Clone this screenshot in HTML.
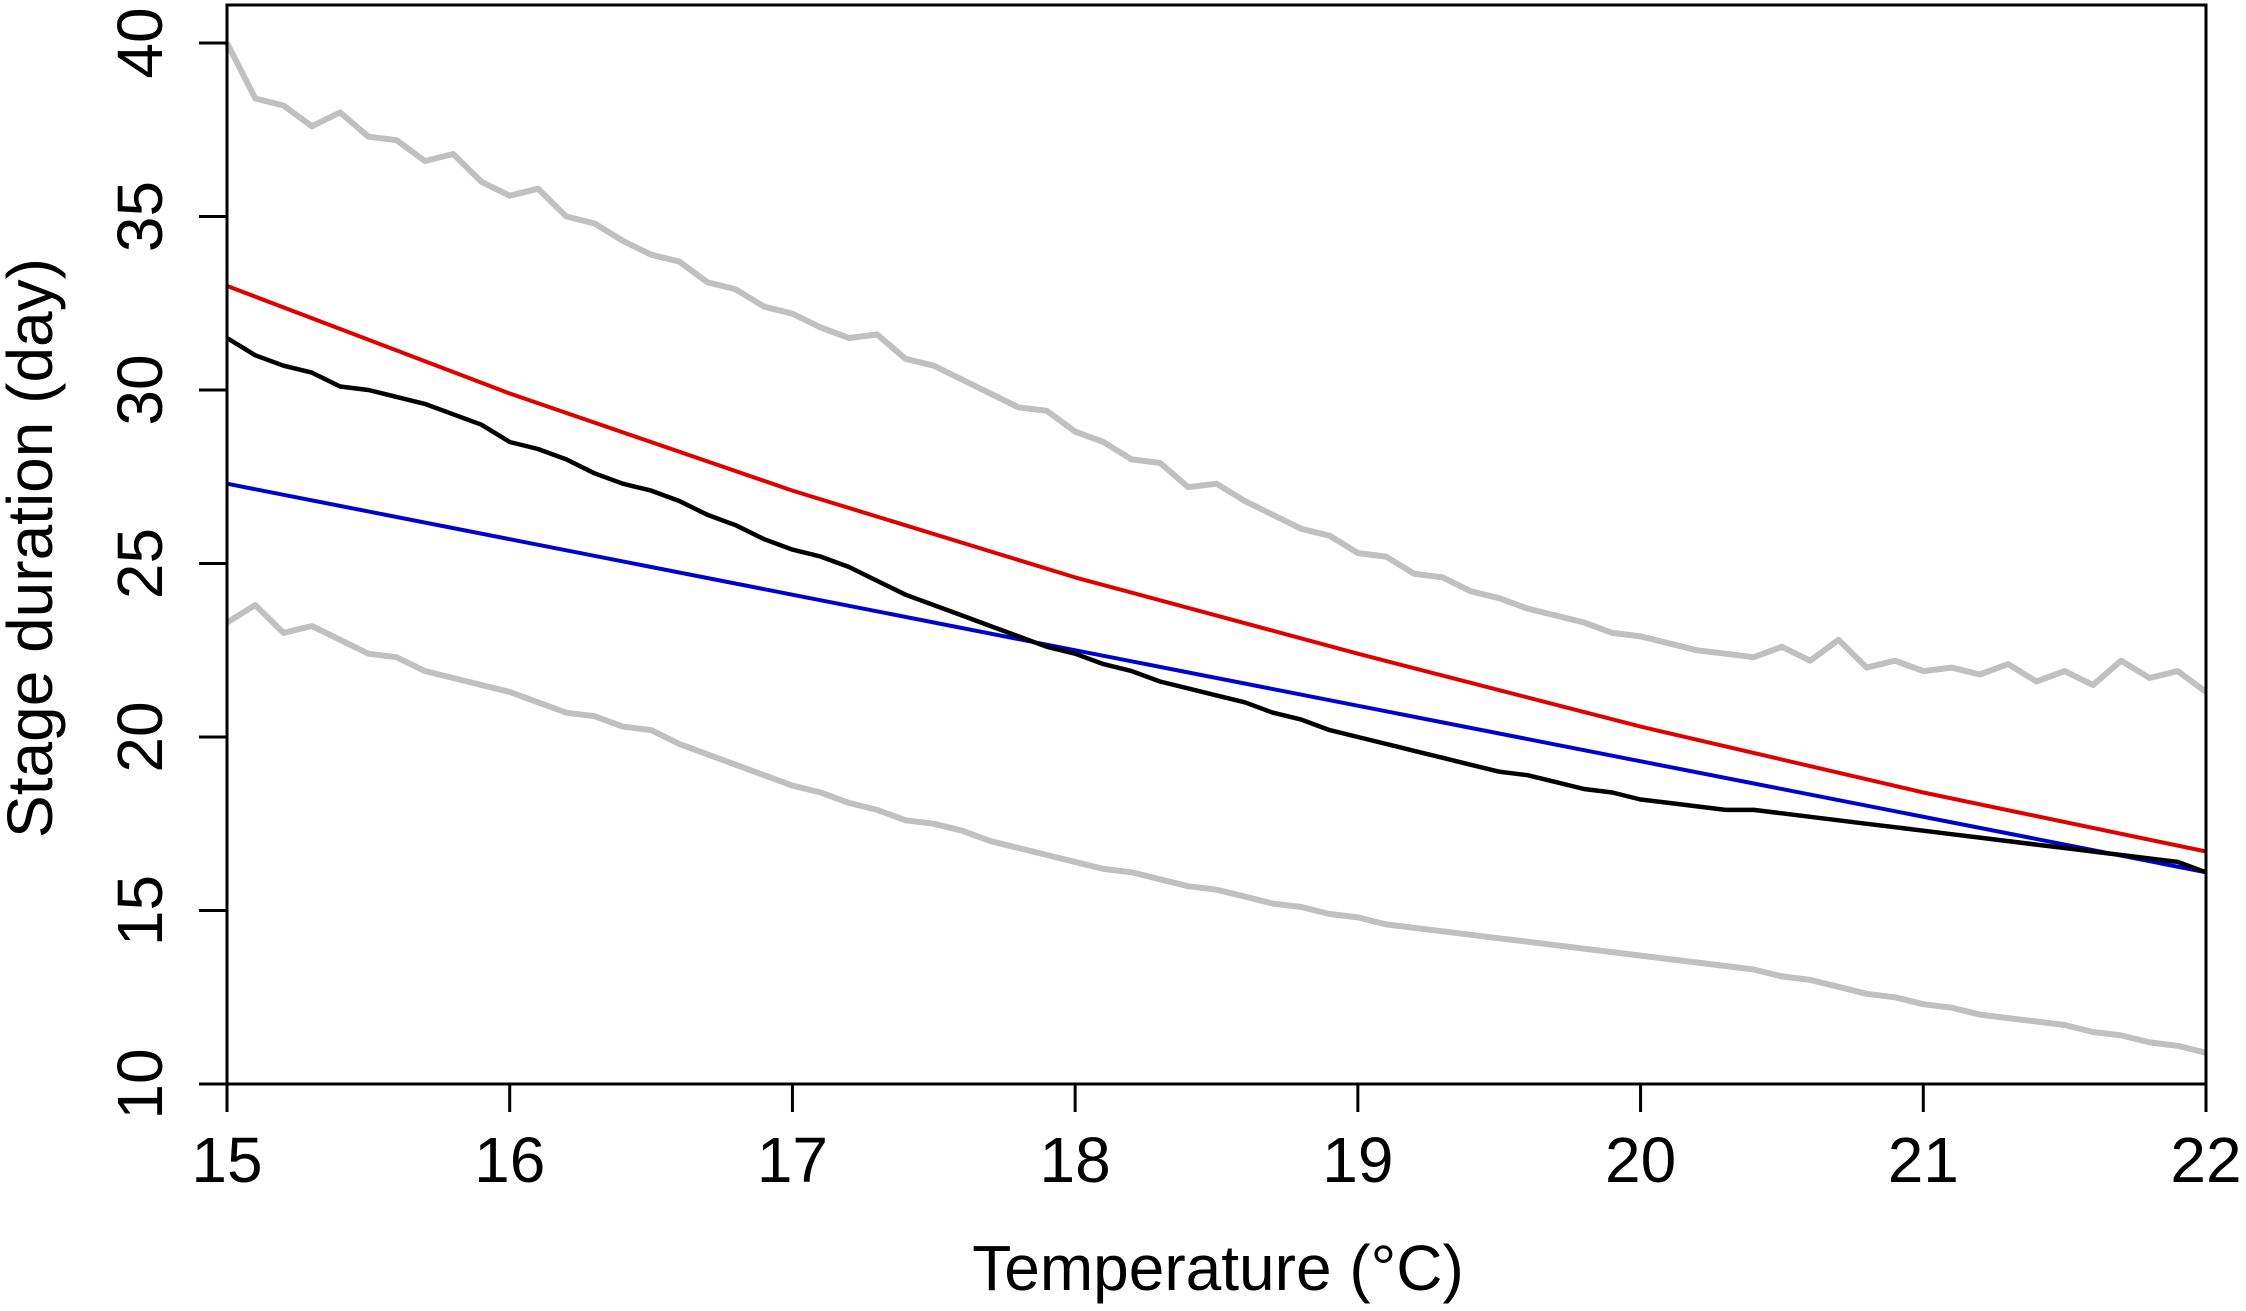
<!DOCTYPE html>
<html><head><meta charset="utf-8"><style>
html,body{margin:0;padding:0;background:#fff;}
svg{display:block;font-family:"Liberation Sans",Arial,sans-serif;}
</style></head><body>
<svg id="chart" width="2246" height="1311" viewBox="0 0 2246 1311">
<g id="plot"></g>
<g id="axes"></g>
<text x="1218" y="1290" font-size="64" text-anchor="middle">Temperature (°C)</text>
<text transform="translate(52,548) rotate(-90)" font-size="64" text-anchor="middle">Stage duration (day)</text>
</svg>
<script>
const xStart = 15, xStep = 0.1;
const upperValues = [40.0,38.4,38.2,37.6,38.0,37.3,37.2,36.6,36.8,36.0,
35.6,35.8,35.0,34.8,34.3,33.9,33.7,33.1,32.9,32.4,
32.2,31.8,31.5,31.6,30.9,30.7,30.3,29.9,29.5,29.4,
28.8,28.5,28.0,27.9,27.2,27.3,26.8,26.4,26.0,25.8,
25.3,25.2,24.7,24.6,24.2,24.0,23.7,23.5,23.3,23.0,
22.9,22.7,22.5,22.4,22.3,22.6,22.2,22.8,22.0,22.2,
21.9,22.0,21.8,22.1,21.6,21.9,21.5,22.2,21.7,21.9,21.3];
const lowerValues = [23.3,23.8,23.0,23.2,22.8,22.4,22.3,21.9,21.7,21.5,
21.3,21.0,20.7,20.6,20.3,20.2,19.8,19.5,19.2,18.9,
18.6,18.4,18.1,17.9,17.6,17.5,17.3,17.0,16.8,16.6,
16.4,16.2,16.1,15.9,15.7,15.6,15.4,15.2,15.1,14.9,
14.8,14.6,14.5,14.4,14.3,14.2,14.1,14.0,13.9,13.8,
13.7,13.6,13.5,13.4,13.3,13.1,13.0,12.8,12.6,12.5,
12.3,12.2,12.0,11.9,11.8,11.7,11.5,11.4,11.2,11.1,10.9];
const meanValues = [31.5,31.0,30.7,30.5,30.1,30.0,29.8,29.6,29.3,29.0,
28.5,28.3,28.0,27.6,27.3,27.1,26.8,26.4,26.1,25.7,
25.4,25.2,24.9,24.5,24.1,23.8,23.5,23.2,22.9,22.6,
22.4,22.1,21.9,21.6,21.4,21.2,21.0,20.7,20.5,20.2,
20.0,19.8,19.6,19.4,19.2,19.0,18.9,18.7,18.5,18.4,
18.2,18.1,18.0,17.9,17.9,17.8,17.7,17.6,17.5,17.4,
17.3,17.2,17.1,17.0,16.9,16.8,16.7,16.6,16.5,16.4,16.1];
const redX = [15,16,17,18,19,20,21,22];
const redY = [33.0,29.9,27.1,24.6,22.4,20.3,18.4,16.7];
const blueX = [15, 22], blueY = [27.3, 16.1];
const xTicks = [15,16,17,18,19,20,21,22];
const yTicks = [10,15,20,25,30,35,40];

const L=227,R=2206,T=5,B=1084;
const sx = v => L + (v-15)/(22-15)*(R-L);
const sy = v => 1084 - (v-10)*(1084-43)/30;
const NS="http://www.w3.org/2000/svg";
const plot=document.getElementById('plot'), axes=document.getElementById('axes');
function mk(tag,attrs,parent){const e=document.createElementNS(NS,tag);for(const k in attrs)e.setAttribute(k,attrs[k]);parent.appendChild(e);return e;}
function series(vals,color,w,name){
  const d=vals.map((v,i)=>(i?'L':'M')+sx(xStart+i*xStep).toFixed(1)+','+sy(v).toFixed(1)).join('');
  const p=mk('path',{d:d,fill:'none',stroke:color,'stroke-width':w,'stroke-linejoin':'round'},plot);
  
  
}
function line(xs,ys,color,w,name){
  const d=xs.map((x,i)=>(i?'L':'M')+sx(x).toFixed(1)+','+sy(ys[i]).toFixed(1)).join('');
  const p=mk('path',{d:d,fill:'none',stroke:color,'stroke-width':w,'stroke-linejoin':'round'},plot);
  
  
}
series(upperValues,'#c0c0c0',6,'upper-bound-line');
series(lowerValues,'#c0c0c0',6,'lower-bound-line');
line(redX,redY,'#e00000',4,'red-fit-line');
line(blueX,blueY,'#0000d0',4,'blue-fit-line');
series(meanValues,'#000',4.5,'mean-line');
const box=mk('rect',{x:L,y:T,width:R-L,height:B-T,fill:'none',stroke:'#000','stroke-width':3},axes);


xTicks.forEach(t=>{
  const x=sx(t);
  const tk=mk('line',{x1:x,x2:x,y1:B,y2:B+28,stroke:'#000','stroke-width':3},axes);
  
  
  const tx=mk('text',{x:x,y:1182,'font-size':64,'text-anchor':'middle'},axes);
  tx.textContent=t;
  
  
});
yTicks.forEach(t=>{
  const y=sy(t);
  const tk=mk('line',{x1:L-28,x2:L,y1:y,y2:y,stroke:'#000','stroke-width':3},axes);
  
  
  const tx=mk('text',{transform:`translate(162,${y}) rotate(-90)`,'font-size':64,'text-anchor':'middle'},axes);
  tx.textContent=t;
  
  
});
</script>
</body></html>
